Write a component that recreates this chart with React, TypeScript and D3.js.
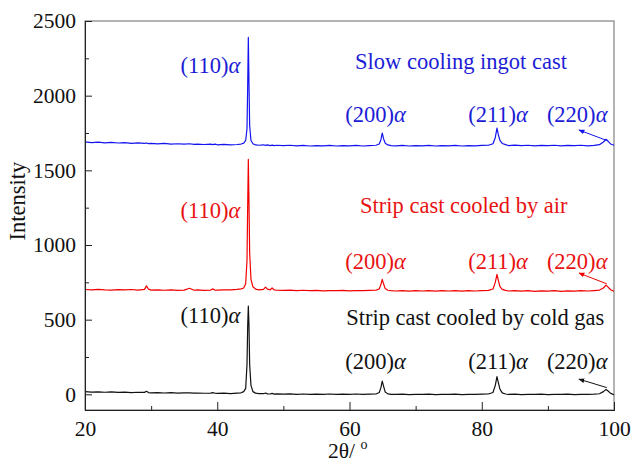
import React, { useRef, useEffect } from 'react'
import * as d3 from 'd3'

// 2θ sample positions (deg), shared by all three patterns
const twoTheta = [
  20, 21, 22, 23, 24, 25, 26, 27, 28, 29,
  29.3, 29.6,
  30, 31, 32, 33, 34, 35,
  35.8, 36.5,
  37, 38, 39,
  39.3, 39.7,
  40, 41, 42, 43,
  43.6, 44, 44.3, 44.5, 44.6, 44.7, 44.8, 44.9, 45.1, 45.4, 45.8, 46.3,
  47, 47.3, 47.6, 48, 48.3, 48.6, 49,
  50, 51, 52, 53, 54, 55, 56, 57, 58, 59, 60, 61, 62, 63,
  64, 64.5, 64.75, 64.95, 65.15, 65.4, 65.8, 66.3,
  67, 68, 69, 70, 71, 72, 73, 74, 75, 76, 77, 78, 79, 80, 81,
  81.7, 82.05, 82.3, 82.5, 82.75, 83.1, 83.6,
  84, 85, 86, 87, 88, 89, 90, 91, 92, 93, 94, 95, 96, 97,
  97.8, 98.4, 98.8, 99.1, 99.5, 100,
]

const slowIngot = [
  1690, 1686, 1689, 1684, 1687, 1683, 1686, 1681, 1684, 1680,
  1683, 1679,
  1681, 1677, 1680, 1676, 1678, 1675,
  1678, 1674,
  1676, 1673, 1675,
  1672, 1675,
  1671, 1674, 1670, 1673,
  1676, 1682, 1700, 1780, 2050, 2390, 2080, 1800, 1700, 1678, 1670, 1668,
  1671, 1667, 1670, 1666, 1669, 1665, 1668,
  1665, 1668, 1664, 1667, 1663, 1666, 1664, 1667, 1663, 1666, 1664, 1667, 1663, 1666,
  1668, 1676, 1705, 1750, 1712, 1682, 1670, 1666,
  1664, 1667, 1663, 1666, 1664, 1667, 1663, 1666, 1664, 1667, 1663, 1666, 1664, 1667, 1668,
  1678, 1720, 1783, 1740, 1700, 1680, 1672,
  1666, 1669, 1665, 1668, 1664, 1667, 1665, 1668, 1664, 1667, 1665, 1668, 1664, 1667,
  1672, 1690, 1708, 1695, 1676, 1668,
]

const stripAir = [
  702, 699, 703, 700, 698, 701, 699, 702, 698, 703,
  726, 704,
  698, 700, 697, 699, 696, 698,
  710, 697,
  699, 696, 698,
  706, 697,
  698, 700, 699, 703,
  706, 712, 740, 900, 1250, 1573, 1280, 950, 770, 720, 705, 700,
  703, 718, 704, 700, 712, 699, 697,
  696, 698, 695, 697, 694, 696, 693, 695, 694, 696, 693, 695, 694, 696,
  697, 706, 735, 770, 740, 708, 697, 694,
  692, 695, 691, 694, 692, 695, 691, 694, 692, 695, 691, 694, 692, 695, 696,
  705, 750, 803, 765, 722, 703, 696,
  692, 695, 691, 694, 690, 693, 691, 694, 690, 693, 691, 694, 692, 695,
  698, 712, 731, 718, 700, 690,
]

const stripColdGas = [
  18, 15, 17, 14, 16, 13, 15, 12, 14, 13,
  20, 12,
  10, 12, 9, 11, 8, 10,
  10, 8,
  9, 7, 8,
  11, 7,
  6, 8, 5, 8,
  10, 18, 40, 200, 450, 591, 460, 200, 60, 18, 8, 5,
  4, 9, 3, 2, 6, 1, 3,
  1, 3, 0, 2, -1, 1, 0, 2, -1, 1, 0, 2, -1, 1,
  2, 12, 45, 89, 55, 15, 3, 0,
  -1, 1, -2, 0, -1, 1, -2, 0, -1, 1, -2, 0, -1, 1, 2,
  12, 60, 118, 80, 35, 10, 2,
  -1, 1, -2, 0, -1, 1, -2, 0, -1, 1, -2, 0, -1, 1,
  4, 18, 33, 22, 6, -3,
]

const xTicks = [20, 40, 60, 80, 100]
const xMinor = [30, 50, 70, 90]
const yTicks = [0, 500, 1000, 1500, 2000, 2500]
const yMinor = [250, 750, 1250, 1750, 2250]

const planes = ['(110)', '(200)', '(211)', '(220)']

const series = [
  { name: 'Slow cooling ingot cast', values: slowIngot, line: '#1414f0', text: '#1c1cd6' },
  { name: 'Strip cast cooled by air', values: stripAir, line: '#f20000', text: '#e81212' },
  { name: 'Strip cast cooled by cold gas', values: stripColdGas, line: '#111111', text: '#111111' },
]

const width = 631
const height = 466
const margin = { top: 21, right: 17, bottom: 56, left: 85 }
const FONT = 'Liberation Serif'

export default function App() {
  const xAxisRef = useRef<SVGGElement>(null)
  const yAxisRef = useRef<SVGGElement>(null)

  const innerW = width - margin.left - margin.right
  const innerH = height - margin.top - margin.bottom

  const x = d3.scaleLinear().domain([20, 100]).range([0, innerW])
  const y = d3.scaleLinear().domain([-105, 2500]).range([innerH, 0])

  useEffect(() => {
    const gx = d3.select(xAxisRef.current)
    gx.selectAll('*').remove()
    gx.append('g').call(d3.axisBottom(x).tickValues(xTicks).tickSize(-8).tickPadding(11).tickFormat(d3.format('d')))
    gx.append('g').call(d3.axisBottom(x).tickValues(xMinor).tickSize(-4).tickFormat(() => ''))
    gx.selectAll('g').attr('font-family', null).attr('font-size', null)
    gx.selectAll('.domain').attr('stroke', '#222')
    gx.selectAll('.tick line').attr('stroke', '#222')
    gx.selectAll('text').attr('fill', '#111')

    const gy = d3.select(yAxisRef.current)
    gy.selectAll('*').remove()
    gy.append('g').call(d3.axisLeft(y).tickValues(yTicks).tickSize(-7).tickPadding(9).tickFormat(d3.format('d')))
    gy.append('g').call(d3.axisLeft(y).tickValues(yMinor).tickSize(-4).tickFormat(() => ''))
    gy.selectAll('g').attr('font-family', null).attr('font-size', null)
    gy.selectAll('.domain').attr('stroke', '#222')
    gy.selectAll('.tick line').attr('stroke', '#222')
    gy.selectAll('text').attr('fill', '#111')
  })

  const line = (vals: number[]) =>
    d3.line<number>().x((_, i) => x(twoTheta[i])).y(d => y(d))(vals) || ''

  // annotation anchors in data units
  const annot = [
    { p110: 2150, nameY: 2177, hklY: 1822, arrow: [[98.9, 1700], [94.7, 1770]] },
    { p110: 1180, nameY: 1213, hklY: 838, arrow: [[98.9, 740], [94.7, 812]] },
    { p110: 477, nameY: 464, hklY: 169, arrow: [[98.9, 45], [94.7, 102]] },
  ]
  const nameX = [60.85, 61.6, 59.5]
  const hklX = [59.35, 77.95, 89.85]

  return (
    <svg width={width} height={height}
      style={{ position: 'absolute', left: 0, top: 0, background: '#fff', fontFamily: FONT, fontSize: 21.5 }}>
      <defs>
        {series.map((s, i) => (
          <marker key={i} id={`arr${i}`} viewBox="0 0 10 10" refX="9" refY="5" markerWidth="6" markerHeight="6" orient="auto-start-reverse">
            <path d="M0,1 L10,5 L0,9 z" fill={s.line} />
          </marker>
        ))}
      </defs>
      <g transform={`translate(${margin.left},${margin.top})`}>
        <rect x={0} y={0} width={innerW} height={innerH} fill="none" stroke="#8a8a8a" strokeWidth={1.3} />
        {series.map((s, i) => (
          <path key={i} d={line(s.values)} fill="none" stroke={s.line} strokeWidth={1.2} strokeLinejoin="round" />
        ))}
        <g ref={xAxisRef} transform={`translate(0,${innerH})`} />
        <g ref={yAxisRef} />
        {series.map((s, i) => {
          const a = annot[i]
          return (
            <g key={i} fill={s.text} fontSize={22.5}>
              <text x={x(44.7) - 8} y={y(a.p110)} textAnchor="end">
                {planes[0]}<tspan fontStyle="italic">α</tspan>
              </text>
              <text x={x(nameX[i])} y={y(a.nameY)}>{s.name}</text>
              {hklX.map((hx, j) => (
                <text key={j} x={x(hx)} y={y(a.hklY)}>
                  {planes[j + 1]}<tspan fontStyle="italic">α</tspan>
                </text>
              ))}
              <line
                x1={x(a.arrow[0][0])} y1={y(a.arrow[0][1])}
                x2={x(a.arrow[1][0])} y2={y(a.arrow[1][1])}
                stroke={s.line} strokeWidth={1} markerEnd={`url(#arr${i})`}
              />
            </g>
          )
        })}
      </g>
      <text transform={`translate(25,201) rotate(-90)`} textAnchor="middle" fill="#111" fontSize={22.5}>Intensity</text>
      <text x={328} y={458} fill="#111" fontSize={21.5}>
        2θ/ <tspan fontSize={14} dy={-9}>o</tspan>
      </text>
    </svg>
  )
}
